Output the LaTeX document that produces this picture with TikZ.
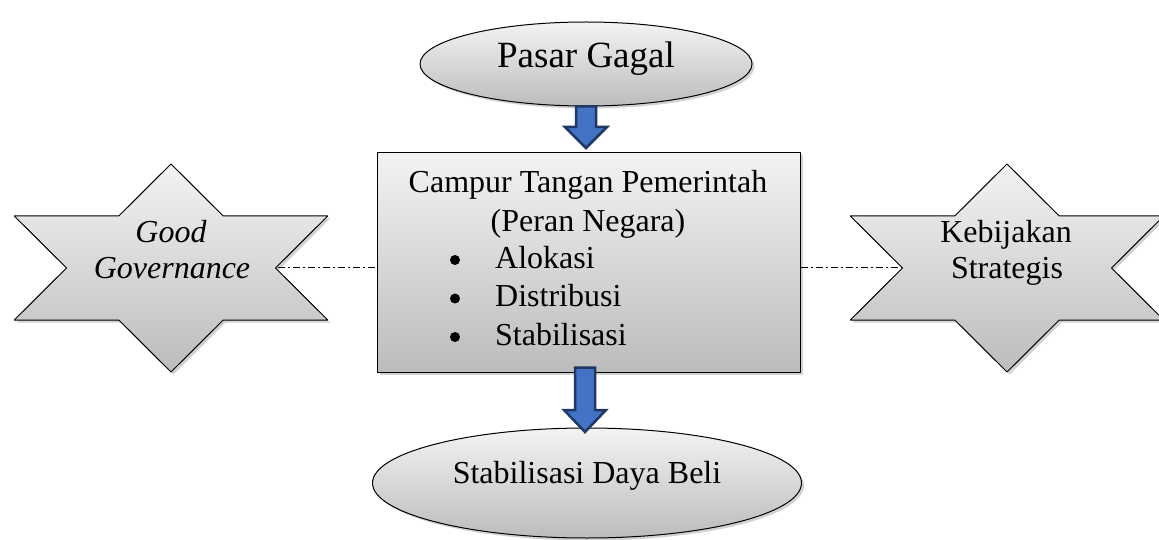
\documentclass[tikz,border=0pt]{standalone}
\usepackage{fontspec}
\setmainfont{Liberation Serif}
\usetikzlibrary{shapes.geometric,shadows,calc}
\definecolor{atas}{RGB}{243,243,243}
\definecolor{bawah}{RGB}{188,188,188}
\definecolor{birupanah}{RGB}{68,114,196}
\definecolor{tepipanah}{RGB}{31,56,100}
\newcommand{\bintang}[2]{\draw[bidang] plot[samples at={0,...,11},variable=\k] ({#1+181*cos(90+30*\k)*(1-0.42265*mod(\k,2))},{#2-104*sin(90+30*\k)*(1-0.42265*mod(\k,2))}) -- cycle;}
\newcommand{\panahblok}[3]{\draw[panah] let \p1=(#1), \p2=(#2) in (\x1-10pt,\y1) -- (\x1+10pt,\y1) -- (\x1+10pt,\y2+#3) -- (\x1+21pt,\y2+#3) -- (\x1,\y2) -- (\x1-21pt,\y2+#3) -- (\x1-10pt,\y2+#3) -- cycle;}

\begin{document}
\begin{tikzpicture}[line cap=round,line join=round,x=1pt,y=-1pt,
	bidang/.style={draw=black,line width=1pt,top color=atas,bottom color=bawah,drop shadow={shadow xshift=2.5pt,shadow yshift=-2.5pt,fill=black!35}},
	teks/.style={font=\fontsize{32}{38}\selectfont,inner sep=0pt},
	panah/.style={draw=tepipanah,fill=birupanah,line width=2.5pt,line join=miter},
	garis/.style={line width=1pt,line cap=butt,dash pattern=on 7pt off 3pt on 2pt off 3pt}]
	\useasboundingbox (0,0) rectangle (1159,540);
	\clip (0,0) rectangle (1159,540);
	\bintang{171}{268}
	\bintang{1007}{268}
	\node[bidang,ellipse,inner sep=0pt,minimum width=332pt,minimum height=84pt] (pasar) at (586,64) {};
	\node[bidang,rectangle,inner sep=0pt,minimum width=423pt,minimum height=219pt] (campur) at (588.5,262.5) {};
	\node[bidang,ellipse,inner sep=0pt,minimum width=429pt,minimum height=110pt] (hasil) at (587,483) {};
	\coordinate (gg) at (278,267);
	\coordinate (ks) at (902,267);
	\coordinate (ujung1) at (586,148);
	\coordinate (ujung2) at (585,432);
	\draw[garis] (gg) -- (gg -| campur.west);
	\draw[garis] (campur.east |- ks) -- (ks);
	\panahblok{pasar.south}{ujung1}{21pt}
	\panahblok{[xshift=-3.5pt,yshift=5pt]campur.south}{ujung2}{22pt}
	\node[teks,anchor=base,font=\fontsize{37}{44}\selectfont] (pasartulisan) at (586,68) {Pasar Gagal};
	\node[teks,anchor=base] (judul1) at (588,193) {Campur Tangan Pemerintah};
	\node[teks,anchor=base] (judul2) at (588,231) {(Peran Negara)};
	\foreach \nama/\isi [count=\i] in {alokasi/Alokasi,distribusi/Distribusi,stabil/Stabilisasi}{
		\node[circle,fill=black,inner sep=0pt,minimum size=10pt] (titik\i) at (455,{260+38.5*(\i-1)}) {};
		\node[teks,anchor=base west] (\nama) at (495,{268+38.5*(\i-1)}) {\isi};
	}
	\node[teks,anchor=base] (hasiltulisan) at (587,483) {Stabilisasi Daya Beli};
	\node[teks,anchor=base,font=\fontsize{32}{38}\selectfont\itshape] (good1) at (171,243) {Good};
	\node[teks,anchor=base,font=\fontsize{32}{38}\selectfont\itshape] (good2) at (172,278) {Governance};
	\node[teks,anchor=base] (kebijakan1) at (1006,243) {Kebijakan};
	\node[teks,anchor=base] (kebijakan2) at (1007,278) {Strategis};
\end{tikzpicture}
\end{document}
